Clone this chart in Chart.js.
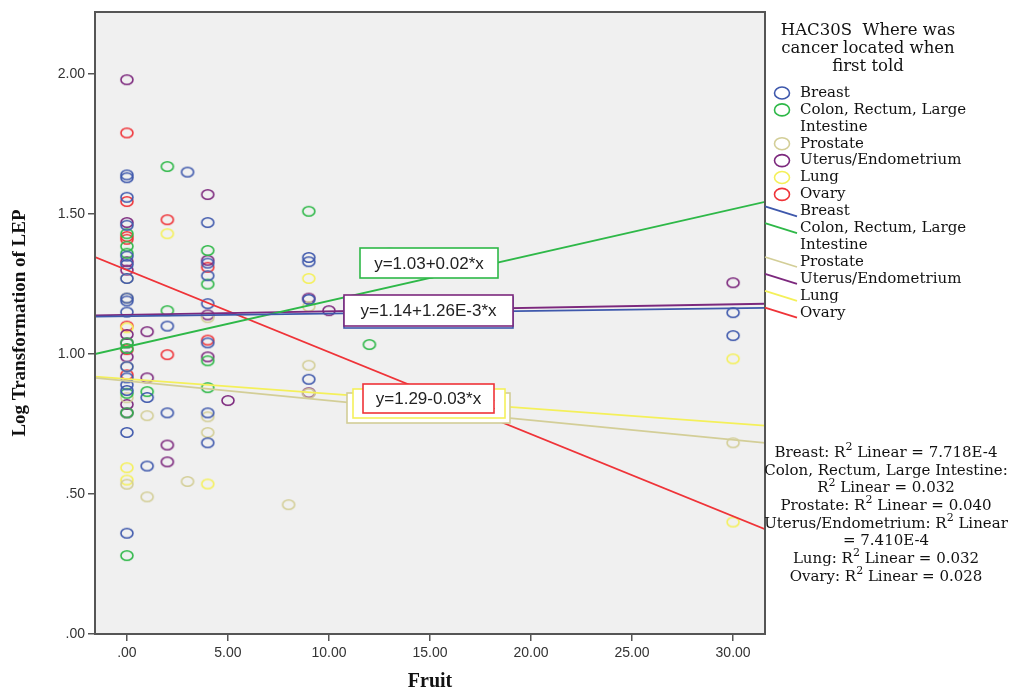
<!DOCTYPE html>
<html>
<head>
<meta charset="utf-8">
<script src="https://cdn.jsdelivr.net/npm/chart.js@4"></script>
<style>
  html, body { margin: 0; padding: 0; background: #fff; }
  #wrap { width: 1010px; height: 692px; }
</style>
</head>
<body>
<div id="wrap"><canvas id="scatterChart"></canvas></div>
<script>
// Groups and colours
const groups = ["Breast", "Colon, Rectum, Large Intestine", "Prostate", "Uterus/Endometrium", "Lung", "Ovary"];
const legendNames = [["Breast"], ["Colon, Rectum, Large", "Intestine"], ["Prostate"], ["Uterus/Endometrium"], ["Lung"], ["Ovary"]];
const groupColors = ["#3E58AC", "#2EB848", "#D3CE97", "#7C287D", "#F4F05A", "#EF3338"];

// Fruit (x) and Log LEP (y) per group
const breastX = [0,0,0,0,0,0,0,0,0,0,0,0,0,0,0,0, 1,1, 2,2, 3, 4,4,4,4,4,4,4, 9,9,9,9, 13, 30,30];
const breastY = [1.64,1.63,1.56,1.46,1.35,1.32,1.27,1.20,1.19,1.15,0.955,0.915,0.89,0.87,0.72,0.36, 0.845,0.60, 1.10,0.79, 1.65, 1.47,1.325,1.28,1.18,1.04,0.79,0.683, 1.345,1.33,1.195,0.91, 1.36, 1.148,1.066];
const colonX = [0,0,0,0,0,0,0,0, 1, 2,2, 4,4,4,4, 9, 12];
const colonY = [1.43,1.385,1.36,1.04,1.02,0.86,0.79,0.28, 0.866, 1.67,1.155, 1.37,1.25,0.976,0.88, 1.51, 1.034];
const prostateX = [0,0,0,0,0, 1,1, 3, 4,4,4, 8, 9,9,9, 30];
const prostateY = [1.27,1.20,0.955,0.844,0.535, 0.78,0.49, 0.545, 1.13,0.776,0.72, 0.462, 1.17,0.96,0.86, 0.683];
const uterusX = [0,0,0,0,0,0,0,0,0, 1,1, 2,2, 4,4,4,4, 5, 9,9, 10, 15, 30];
const uterusY = [1.98,1.47,1.33,1.30,1.07,1.04,0.99,0.82,0.79, 1.08,0.915, 0.675,0.615, 1.57,1.335,1.14,0.99, 0.834, 1.20,0.862, 1.155, 1.29, 1.255];
const lungX = [0,0,0, 2, 4, 9, 30,30];
const lungY = [1.094,0.594,0.55, 1.43, 0.536, 1.27, 0.983,0.40];
const ovaryX = [0,0,0,0,0,0,0, 2,2, 4,4];
const ovaryY = [1.79,1.545,1.42,1.41,1.10,1.016,0.926, 1.48,0.998, 1.31,1.05];

const groupX = [breastX, colonX, prostateX, uterusX, lungX, ovaryX];
const groupY = [breastY, colonY, prostateY, uterusY, lungY, ovaryY];

// Linear fit lines
const intercepts = [1.1355, 1.026, 0.904, 1.14, 0.911, 1.30];
const slopes = [0.00093, 0.0164, -0.0070, 0.00126, -0.00528, -0.0293];
const eqLabels = ["y=1.14+9.26E-4*x", "y=1.03+0.02*x", "y=0.90-7.00E-3*x", "y=1.14+1.26E-3*x", "y=0.91-5.28E-3*x", "y=1.29-0.03*x"];
const r2Lines = ["Breast: R^2 Linear = 7.718E-4", "Colon, Rectum, Large Intestine:", "R^2 Linear = 0.032", "Prostate: R^2 Linear = 0.040", "Uterus/Endometrium: R^2 Linear", "= 7.410E-4", "Lung: R^2 Linear = 0.032", "Ovary: R^2 Linear = 0.028"];

// Axes
const xTicks = [0, 5, 10, 15, 20, 25, 30];
const yTicks = [0, 0.5, 1, 1.5, 2];
const xMin = -1.58, xMax = 31.58;
const yMin = 0, yMax = 2.222;

function makeRing(color) {
  const c = document.createElement("canvas");
  c.width = 16; c.height = 13;
  const g = c.getContext("2d");
  g.strokeStyle = color;
  g.lineWidth = 1.6;
  g.beginPath();
  g.ellipse(8, 6.5, 6, 4.7, 0, 0, Math.PI * 2);
  g.stroke();
  return c;
}

function fmt(v) {
  let s = v.toFixed(2);
  if (s.startsWith("0.")) s = s.slice(1);
  return s;
}

let datasets = [];
groups.forEach((name, i) => {
  datasets.push({
    label: name,
    data: groupX[i].map((x, k) => ({ x: x, y: groupY[i][k] })),
    pointStyle: makeRing(groupColors[i]),
    pointRadius: 6,
    borderColor: groupColors[i],
    backgroundColor: "transparent",
    order: 2
  });
});
groups.forEach((name, i) => {
  datasets.push({
    type: "line",
    label: name + " fit",
    data: [xMin, xMax].map(x => ({ x: x, y: intercepts[i] + slopes[i] * x })),
    borderColor: groupColors[i],
    borderWidth: 1.8,
    pointRadius: 0,
    fill: false,
    order: 1
  });
});

const serif = "'DejaVu Serif', serif";

// Plot background + frame
const framePlugin = {
  id: "frame",
  beforeDraw(chart) {
    const { ctx, chartArea: a } = chart;
    ctx.save();
    ctx.fillStyle = "#fff";
    ctx.fillRect(0, 0, chart.width, chart.height);
    ctx.fillStyle = "#F0F0F0";
    ctx.fillRect(a.left, a.top, a.right - a.left, a.bottom - a.top);
    ctx.restore();
  },
  afterDatasetsDraw(chart) {
    const { ctx, chartArea: a } = chart;
    ctx.save();
    ctx.strokeStyle = "#555";
    ctx.lineWidth = 2;
    ctx.strokeRect(a.left, a.top, a.right - a.left, a.bottom - a.top);
    ctx.restore();
  }
};

// Equation label boxes
const eqPlugin = {
  id: "eqBoxes",
  afterDatasetsDraw(chart) {
    const ctx = chart.ctx;
    // [group, left, top, width, height]
    const boxes = [
      [0, 344, 297, 169, 31],
      [3, 344, 295, 169, 31],
      [1, 360, 248, 138, 30],
      [2, 347, 393, 163, 30],
      [4, 353, 389, 152, 29],
      [5, 363, 384, 131, 29]
    ];
    ctx.save();
    ctx.font = "17px 'Liberation Sans', Arial, sans-serif";
    ctx.textAlign = "center";
    ctx.textBaseline = "middle";
    boxes.forEach(b => {
      const [g, x, y, w, h] = b;
      ctx.fillStyle = "#fff";
      ctx.fillRect(x, y, w, h);
      ctx.strokeStyle = groupColors[g];
      ctx.lineWidth = 1.6;
      ctx.strokeRect(x, y, w, h);
      ctx.fillStyle = "#222";
      ctx.fillText(eqLabels[g], x + w / 2, y + h / 2 + 1);
    });
    ctx.restore();
  }
};

function drawSupText(ctx, text, cx, y, size) {
  const parts = text.split("^2");
  const mainFont = size + "px " + serif;
  const supFont = Math.round(size * 0.72) + "px " + serif;
  let total = 0;
  parts.forEach((p, i) => {
    ctx.font = mainFont;
    total += ctx.measureText(p).width;
    if (i < parts.length - 1) { ctx.font = supFont; total += ctx.measureText("2").width; }
  });
  let x = cx - total / 2;
  ctx.textAlign = "left";
  parts.forEach((p, i) => {
    ctx.font = mainFont;
    ctx.fillText(p, x, y);
    x += ctx.measureText(p).width;
    if (i < parts.length - 1) {
      ctx.font = supFont;
      ctx.fillText("2", x, y - size * 0.38);
      x += ctx.measureText("2").width;
    }
  });
}

// Legend and R² notes at the right
const sidePlugin = {
  id: "side",
  afterDraw(chart) {
    const ctx = chart.ctx;
    ctx.save();
    ctx.fillStyle = "#111";
    ctx.textBaseline = "middle";
    ctx.font = "16.5px " + serif;
    ctx.textAlign = "center";
    ["HAC30S  Where was", "cancer located when", "first told"].forEach((t, i) => {
      ctx.fillText(t, 868, 31 + i * 18);
    });

    ctx.font = "15px " + serif;
    ctx.textAlign = "left";
    let y = 93;
    const rowH = 16.9;
    // point symbols
    legendNames.forEach((lines, i) => {
      ctx.strokeStyle = groupColors[i];
      ctx.lineWidth = 1.6;
      ctx.beginPath();
      ctx.ellipse(782, y, 7.5, 6, 0, 0, Math.PI * 2);
      ctx.stroke();
      lines.forEach((t, k) => {
        ctx.fillStyle = "#111";
        ctx.fillText(t, 800, y + k * rowH);
      });
      y += rowH * lines.length;
    });
    // line symbols
    legendNames.forEach((lines, i) => {
      ctx.strokeStyle = groupColors[i];
      ctx.lineWidth = 1.8;
      ctx.beginPath();
      ctx.moveTo(765, y - 5);
      ctx.lineTo(797, y + 5);
      ctx.stroke();
      lines.forEach((t, k) => {
        ctx.fillStyle = "#111";
        ctx.fillText(t, 800, y + k * rowH);
      });
      y += rowH * lines.length;
    });

    ctx.fillStyle = "#111";
    r2Lines.forEach((t, i) => {
      drawSupText(ctx, t, 886, 453 + i * 17.7, 15);
    });
    ctx.restore();
  }
};

new Chart(document.getElementById("scatterChart"), {
  type: "scatter",
  data: { datasets: datasets },
  options: {
    responsive: true,
    maintainAspectRatio: false,
    animation: false,
    layout: { padding: { left: 0, right: 245, top: 12, bottom: 0 } },
    plugins: {
      legend: { display: false },
      tooltip: { enabled: false }
    },
    scales: {
      x: {
        type: "linear",
        min: xMin,
        max: xMax,
        afterBuildTicks: s => { s.ticks = xTicks.map(v => ({ value: v })); },
        afterFit: s => { s.height = 58; },
        grid: { drawOnChartArea: false, drawTicks: true, tickLength: 7, color: "#555", lineWidth: 1.5 },
        border: { display: false },
        ticks: {
          padding: 4,
          color: "#333",
          font: { family: "'Liberation Sans', Arial, sans-serif", size: 14 },
          callback: v => fmt(v)
        },
        title: {
          display: true,
          text: "Fruit",
          color: "#111",
          font: { family: "'Liberation Serif', serif", size: 20, weight: "bold", lineHeight: 1 },
          padding: { top: 0, bottom: 0 }
        }
      },
      y: {
        type: "linear",
        min: yMin,
        max: yMax,
        afterBuildTicks: s => { s.ticks = yTicks.map(v => ({ value: v })); },
        afterFit: s => { s.width = 95; },
        grid: { drawOnChartArea: false, drawTicks: true, tickLength: 7, color: "#555", lineWidth: 1.5 },
        border: { display: false },
        ticks: {
          padding: 3,
          color: "#333",
          font: { family: "'Liberation Sans', Arial, sans-serif", size: 14 },
          callback: v => fmt(v)
        },
        title: {
          display: true,
          text: "Log Transformation of LEP",
          color: "#111",
          font: { family: "'Liberation Serif', serif", size: 19, weight: "bold", lineHeight: 1 },
          padding: { top: 11, bottom: 0 }
        }
      }
    }
  },
  plugins: [framePlugin, eqPlugin, sidePlugin]
});
</script>
</body>
</html>
